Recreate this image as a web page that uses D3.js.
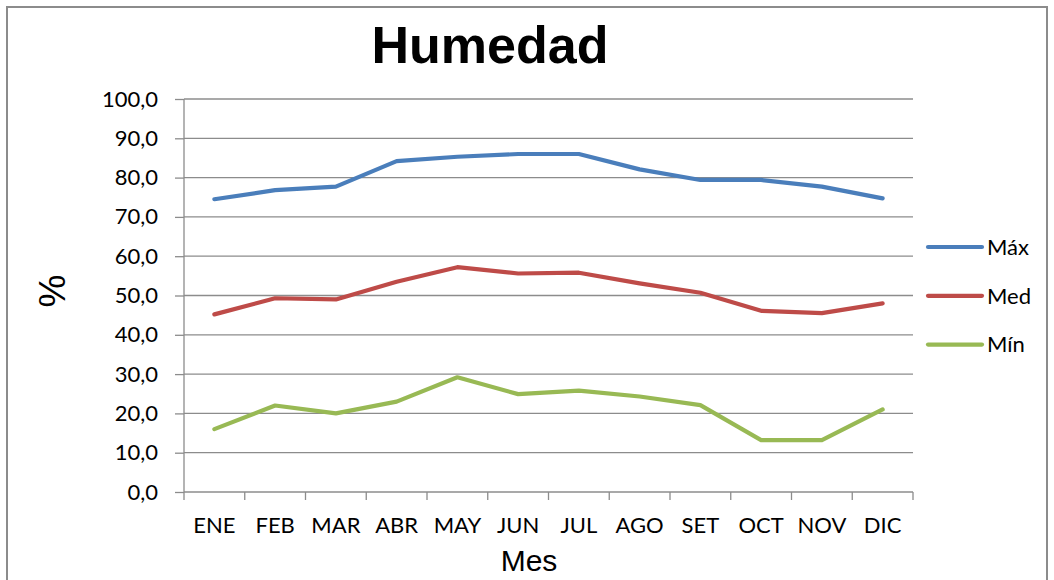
<!DOCTYPE html>
<html>
<head>
<meta charset="utf-8">
<script src="https://cdn.jsdelivr.net/npm/d3@7"></script>
<style>
  body { margin: 0; background: #fff; }
  text { font-family: Lato, "Liberation Sans", sans-serif; fill: #000; }
</style>
</head>
<body>
<svg id="chart"></svg>
<script>
var width = 1054;
var height = 580;

var months = ['ENE', 'FEB', 'MAR', 'ABR', 'MAY', 'JUN', 'JUL', 'AGO', 'SET', 'OCT', 'NOV', 'DIC'];
var seriesNames = ['Máx', 'Med', 'Mín'];
var maxValues = [74.5, 76.8, 77.7, 84.2, 85.3, 86.0, 86.0, 82.1, 79.4, 79.4, 77.7, 74.7];
var medValues = [45.2, 49.3, 49.0, 53.5, 57.2, 55.6, 55.8, 53.1, 50.7, 46.1, 45.5, 48.0];
var minValues = [16.0, 22.0, 20.0, 23.0, 29.2, 24.9, 25.8, 24.3, 22.1, 13.2, 13.2, 21.0];
var yTicks = [0, 10, 20, 30, 40, 50, 60, 70, 80, 90, 100];
var colors = ['#4a7ebb', '#be4b48', '#98b954'];

var plotLeft = 184, plotRight = 913, plotTop = 99, plotBottom = 492;

var svg = d3.select('#chart')
  .attr('width', width)
  .attr('height', height);

// chart border
svg.append('rect')
  .attr('x', 7).attr('y', 7)
  .attr('width', 1040).attr('height', 590)
  .attr('fill', 'none')
  .attr('stroke', '#8c8c8c')
  .attr('stroke-width', 2);

// X scale
var xScale = d3.scaleBand()
  .domain(months)
  .range([plotLeft, plotRight]);

// Y scale
var yScale = d3.scaleLinear()
  .domain([0, 100])
  .range([plotBottom, plotTop]);

// grid
svg.append('g')
  .selectAll('line')
  .data(yTicks.slice(1))
  .enter().append('line')
    .attr('x1', plotLeft).attr('x2', plotRight)
    .attr('y1', function(d) { return yScale(d); })
    .attr('y2', function(d) { return yScale(d); })
    .attr('stroke', '#8c8c8c')
    .attr('stroke-width', 1.3);

// y axis
var yAxis = svg.append('g')
  .attr('transform', 'translate(' + plotLeft + ',0)')
  .call(d3.axisLeft(yScale)
    .tickValues(yTicks)
    .tickSize(9)
    .tickPadding(17)
    .tickFormat(function(d) { return d3.format('.1f')(d).replace('.', ','); }));
yAxis.selectAll('path, line').attr('stroke', '#8c8c8c').attr('stroke-width', 1.3);
yAxis.select('.domain').attr('d', 'M0,' + plotTop + 'V' + plotBottom);
yAxis.selectAll('text').style('font-size', '22px').attr('fill', '#000');

// x axis
var xAxis = svg.append('g')
  .attr('transform', 'translate(0,' + plotBottom + ')')
  .call(d3.axisBottom(xScale).tickSize(0).tickPadding(25));
xAxis.select('.domain').attr('stroke', '#8c8c8c').attr('stroke-width', 1.3)
  .attr('d', 'M' + plotLeft + ',0H' + plotRight);
xAxis.selectAll('text').style('font-size', '22px').attr('fill', '#000');

// x tick marks at band edges
xAxis.append('g')
  .selectAll('line')
  .data(months)
  .enter().append('line')
    .attr('x1', function(d) { return xScale(d); })
    .attr('x2', function(d) { return xScale(d); })
    .attr('y1', 0).attr('y2', 8)
    .attr('stroke', '#8c8c8c').attr('stroke-width', 1.3);
xAxis.append('line')
  .attr('x1', plotRight).attr('x2', plotRight)
  .attr('y1', 0).attr('y2', 8)
  .attr('stroke', '#8c8c8c').attr('stroke-width', 1.3);

// lines
var allSeries = [maxValues, medValues, minValues];
var line = d3.line()
  .x(function(d, i) { return xScale(months[i]) + xScale.bandwidth() / 2; })
  .y(function(d) { return yScale(d); });

svg.append('g')
  .selectAll('path')
  .data(allSeries)
  .enter().append('path')
    .attr('d', line)
    .attr('fill', 'none')
    .attr('stroke', function(d, i) { return colors[i]; })
    .attr('stroke-width', 4.2)
    .attr('stroke-linejoin', 'round')
    .attr('stroke-linecap', 'round');

// title
svg.append('text')
  .attr('x', 490).attr('y', 63)
  .attr('text-anchor', 'middle')
  .style('font-family', '"Liberation Sans", Arial, sans-serif')
  .style('font-weight', 'bold')
  .style('font-size', '52px')
  .text('Humedad');

// axis titles
svg.append('text')
  .attr('transform', 'translate(65,291) rotate(-90)')
  .attr('text-anchor', 'middle')
  .style('font-family', '"Liberation Sans", Arial, sans-serif')
  .style('font-size', '37px')
  .text('%');

svg.append('text')
  .attr('x', 529).attr('y', 571)
  .attr('text-anchor', 'middle')
  .style('font-family', '"Liberation Sans", Arial, sans-serif')
  .style('font-size', '30px')
  .text('Mes');

// legend
var legend = svg.append('g')
  .attr('transform', 'translate(928,247)');
var items = legend.selectAll('g')
  .data(seriesNames)
  .enter().append('g')
    .attr('transform', function(d, i) { return 'translate(0,' + (i * 48.8) + ')'; });
items.append('line')
  .attr('x1', 0).attr('x2', 54)
  .attr('stroke', function(d, i) { return colors[i]; })
  .attr('stroke-width', 4.2)
  .attr('stroke-linecap', 'round');
items.append('text')
  .attr('x', 59).attr('dy', '0.35em')
  .style('font-size', '22px')
  .text(function(d) { return d; });
</script>
</body>
</html>
